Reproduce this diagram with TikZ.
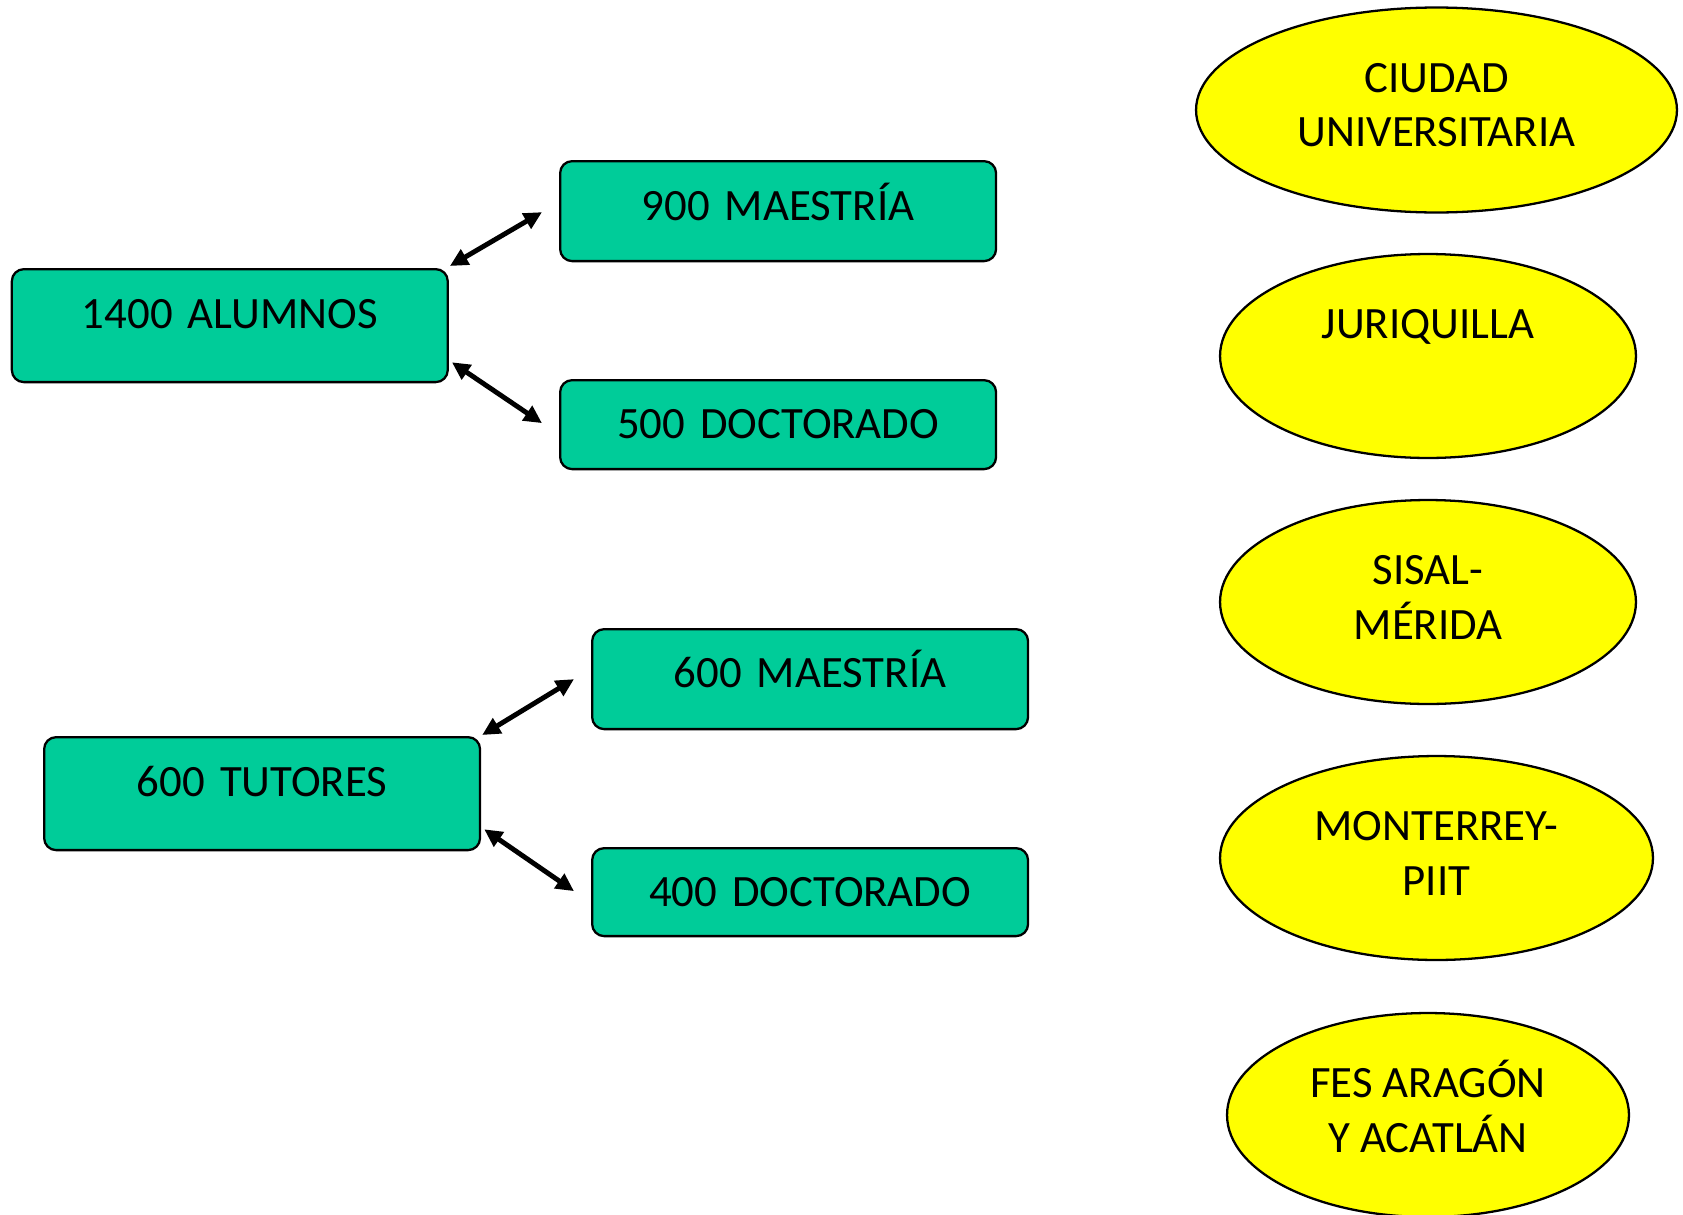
\documentclass[tikz,border=0pt]{standalone}
\usepackage{fontspec}
\setmainfont{Carlito}
\usetikzlibrary{shapes.geometric,arrows.meta}
\definecolor{boxgreen}{HTML}{00CC99}
\definecolor{ellyellow}{HTML}{FFFF00}
\begin{document}
\begin{tikzpicture}[x=0.02cm,y=-0.02cm,
  every node/.style={font=\fontsize{25.5}{31.3}\selectfont},
  gbox/.style={draw=black, line width=1.3pt, fill=boxgreen, rounded corners=0.24cm,
    anchor=north west, text width=8.72cm, align=center, inner xsep=0pt, inner ysep=0pt},
  place/.style={ellipse, draw=black, line width=1.3pt, fill=ellyellow, align=center,
    inner sep=0pt},
  oneline/.style={text height=0.3cm, text depth=1.02cm},
  twoline/.style={text height=1.6cm, text depth=0.12cm},
  link/.style={line width=2.8pt, {Triangle[length=0.36cm,width=0.34cm]}-{Triangle[length=0.36cm,width=0.34cm]}}
]
\useasboundingbox (0,0) rectangle (1683,1214);

\node[gbox, text height=1.18cm, text depth=1.08cm] (alumnos) at (10.7,268) {1400 ALUMNOS};
\node[gbox, text height=1.18cm, text depth=0.82cm] (m900) at (559,160) {900 MAESTRÍA};
\node[gbox, text height=1.16cm, text depth=0.62cm] (d500) at (559,379) {500 DOCTORADO};
\node[gbox, text height=1.16cm, text depth=0.84cm] (m600) at (591,628) {600 MAESTRÍA};
\node[gbox, text height=1.18cm, text depth=1.08cm] (tutores) at (43,736) {600 TUTORES};
\node[gbox, text height=1.16cm, text depth=0.60cm] (d400) at (591,847) {400 DOCTORADO};

\draw[link] ([shift={(1,-2)}]alumnos.north east) -- ([shift={(-17,1)}]m900.west);
\draw[link] ([shift={(3,-21)}]alumnos.south east) -- ([shift={(-17,-1.5)}]d500.west);
\draw[link] ([shift={(1,-1)}]tutores.north east) -- ([shift={(-17,0)}]m600.west);
\draw[link] ([shift={(3,-22)}]tutores.south east) -- ([shift={(-17,-1)}]d400.west);

\node[place, twoline, minimum width=9.62cm, minimum height=4.1cm] (cu) at (1436.5,110) {CIUDAD\\UNIVERSITARIA};
\node[place, oneline, minimum width=8.32cm, minimum height=4.08cm] (juri) at (1428,356) {JURIQUILLA};
\node[place, twoline, minimum width=8.32cm, minimum height=4.08cm] (sisal) at (1428,602) {SISAL-\\MÉRIDA};
\node[place, twoline, minimum width=8.66cm, minimum height=4.08cm] (mty) at (1436.5,858) {MONTERREY-\\PIIT};
\node[place, twoline, minimum width=8.04cm, minimum height=4.08cm] (fes) at (1428,1115) {FES ARAGÓN\\Y ACATLÁN};
\end{tikzpicture}
\end{document}
